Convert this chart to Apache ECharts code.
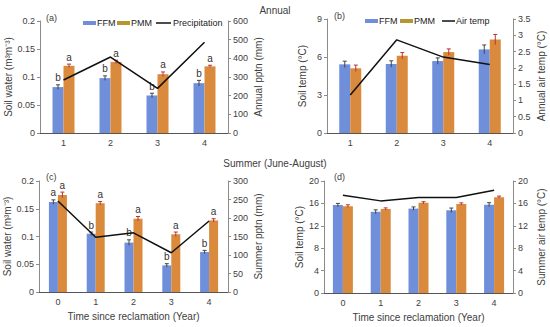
<!DOCTYPE html>
<html>
<head>
<meta charset="utf-8">
<script src="https://cdn.jsdelivr.net/npm/echarts@6/dist/echarts.min.js"></script>
<style>html,body{margin:0;padding:0;background:#fff}#c{width:550px;height:327px}</style>
</head>
<body>
<div id="c"></div>
<script>
// ---- Data ----
const catsAnnual = ['1', '2', '3', '4'];
const catsSummer = ['0', '1', '2', '3', '4'];

// (a) Annual soil water
const aFFM = [0.082, 0.098, 0.067, 0.089];
const aPMM = [0.120, 0.127, 0.105, 0.119];
const aFFMerr = [0.004, 0.004, 0.004, 0.005];
const aPMMerr = [0.003, 0.003, 0.004, 0.002];
const aFFMlet = ['b', 'b', 'b', 'b'];
const aPMMlet = ['a', 'a', 'a', 'a'];
const aPptn = [284, 407, 239, 486];

// (b) Annual soil temp
const bFFM = [5.42, 5.45, 5.68, 6.6];
const bPMM = [5.11, 6.1, 6.39, 7.38];
const bFFMerr = [0.25, 0.25, 0.25, 0.35];
const bPMMerr = [0.25, 0.25, 0.25, 0.4];
const bAir = [1.17, 2.86, 2.33, 2.10];

// (c) Summer soil water
const cFFM = [0.162, 0.105, 0.089, 0.048, 0.072];
const cPMM = [0.175, 0.160, 0.132, 0.104, 0.129];
const cFFMerr = [0.004, 0.003, 0.005, 0.003, 0.003];
const cPMMerr = [0.005, 0.003, 0.004, 0.004, 0.003];
const cFFMlet = ['a', 'b', 'b', 'b', 'b'];
const cPMMlet = ['a', 'a', 'a', 'a', 'a'];
const cPptn = [246, 148, 160, 106, 192];

// (d) Summer soil temp
const dFFM = [15.7, 14.5, 15.07, 14.77, 15.78];
const dPMM = [15.5, 15.0, 16.1, 15.9, 17.1];
const dFFMerr = [0.3, 0.35, 0.3, 0.4, 0.35];
const dPMMerr = [0.25, 0.2, 0.2, 0.2, 0.2];
const dAir = [17.46, 16.45, 17.04, 17.04, 18.35];

// ---- Styling ----
const FONT = 'Liberation Sans, Arial, sans-serif';
const C_FFM = '#6f8fdb';
const C_PMM = '#d98a3c';
const C_LEG_PMM = '#b8962f';
const TXT = '#404040';
const AXC = '#8c8c8c';

const grids = [
  {left: 40, top: 21, width: 188, height: 112},
  {left: 327, top: 19, width: 186, height: 114},
  {left: 39, top: 181, width: 189, height: 111},
  {left: 324, top: 181, width: 189, height: 112}
];

function xAx(i, cats, withName) {
  return {
    type: 'category', gridIndex: i, data: cats,
    axisLine: {lineStyle: {color: '#555', width: 1}},
    axisTick: {show: false},
    axisLabel: {color: TXT, fontSize: 9, fontFamily: FONT, margin: 5},
    name: withName ? 'Time since reclamation (Year)' : '',
    nameLocation: 'middle', nameGap: 19,
    nameTextStyle: {color: TXT, fontSize: 10, fontFamily: FONT}
  };
}
function yAx(i, pos, min, max, interval, name, gap) {
  return {
    type: 'value', gridIndex: i, position: pos, min: min, max: max, interval: interval,
    splitLine: {show: false},
    axisLine: {show: true, lineStyle: {color: AXC, width: 1}},
    axisTick: {show: true, length: 3, lineStyle: {color: AXC}},
    axisLabel: {color: TXT, fontSize: 9, fontFamily: FONT, margin: 5},
    name: name, nameLocation: 'middle', nameGap: gap,
    nameTextStyle: {color: TXT, fontSize: 10, fontFamily: FONT}
  };
}

function bars(xi, yi, data, color, width) {
  return {
    type: 'bar', xAxisIndex: xi, yAxisIndex: yi, data: data,
    barWidth: width, barGap: '0%',
    itemStyle: {color: color}
  };
}
function errs(xi, yi, vals, errsArr, letters, side, width, errColor) {
  const data = vals.map((v, k) => [k, v, errsArr[k]]);
  return {
    type: 'custom', xAxisIndex: xi, yAxisIndex: yi, data: data, z: 5,
    renderItem: function (params, api) {
      const k = api.value(0), v = api.value(1), e = api.value(2);
      const c = api.coord([k, v]);
      const x = c[0] + side * width / 2;
      const top = api.coord([k, v + e])[1];
      const bot = api.coord([k, v - e])[1];
      const children = [
        {type: 'line', shape: {x1: x, y1: top, x2: x, y2: bot}, style: {stroke: errColor, lineWidth: 1}},
        {type: 'line', shape: {x1: x - 2, y1: top, x2: x + 2, y2: top}, style: {stroke: errColor, lineWidth: 1}}
      ];
      if (letters) {
        children.push({
          type: 'text',
          style: {text: letters[params.dataIndex], x: x, y: top - 2, align: 'center', verticalAlign: 'bottom',
            fill: '#333', font: '10px ' + FONT}
        });
      }
      return {type: 'group', children: children};
    }
  };
}
function line(xi, yi, data, name) {
  return {
    type: 'line', name: name, xAxisIndex: xi, yAxisIndex: yi, data: data,
    symbol: 'none', z: 6,
    lineStyle: {color: '#111', width: 1.5}, itemStyle: {color: '#111'}
  };
}

const option = {
  animation: false,
  textStyle: {fontFamily: FONT},
  grid: grids,
  xAxis: [xAx(0, catsAnnual, false), xAx(1, catsAnnual, false), xAx(2, catsSummer, true), xAx(3, catsSummer, true)],
  yAxis: [
    yAx(0, 'left', 0, 0.2, 0.05, 'Soil water (m\u00b3m\u207b\u00b3)', 26),
    yAx(0, 'right', 0, 600, 100, 'Annual pptn (mm)', 25),
    yAx(1, 'left', 0, 9, 3, 'Soil temp (\u00b0C)', 20),
    yAx(1, 'right', 0, 3.5, 0.5, 'Annual air temp (\u00b0C)', 23),
    yAx(2, 'left', 0, 0.2, 0.05, 'Soil water (m\u00b3m\u207b\u00b3)', 26),
    yAx(2, 'right', 0, 300, 50, 'Summer pptn (mm)', 25),
    yAx(3, 'left', 0, 20, 4, 'Soil temp (\u00b0C)', 20),
    yAx(3, 'right', 0, 20, 4, 'Summer air temp (\u00b0C)', 23)
  ],
  series: [
    bars(0, 0, aFFM, C_FFM, 11), bars(0, 0, aPMM, C_PMM, 11),
    errs(0, 0, aFFM, aFFMerr, aFFMlet, -1, 11, '#444'), errs(0, 0, aPMM, aPMMerr, aPMMlet, 1, 11, '#b33'),
    line(0, 1, aPptn, 'Precipitation'),

    bars(1, 2, bFFM, C_FFM, 11), bars(1, 2, bPMM, C_PMM, 11),
    errs(1, 2, bFFM, bFFMerr, null, -1, 11, '#444'), errs(1, 2, bPMM, bPMMerr, null, 1, 11, '#b33'),
    line(1, 3, bAir, 'Air temp'),

    bars(2, 4, cFFM, C_FFM, 9), bars(2, 4, cPMM, C_PMM, 9),
    errs(2, 4, cFFM, cFFMerr, cFFMlet, -1, 9, '#444'), errs(2, 4, cPMM, cPMMerr, cPMMlet, 1, 9, '#b33'),
    line(2, 5, cPptn, 'Summer pptn'),

    bars(3, 6, dFFM, C_FFM, 10), bars(3, 6, dPMM, C_PMM, 10),
    errs(3, 6, dFFM, dFFMerr, null, -1, 10, '#444'), errs(3, 6, dPMM, dPMMerr, null, 1, 10, '#b33'),
    line(3, 7, dAir, 'Summer air temp')
  ],
  graphic: [
    {type: 'text', left: 'center', top: 5, style: {text: 'Annual', fill: TXT, font: '10px ' + FONT}},
    {type: 'text', left: 'center', top: 158, style: {text: 'Summer (June-August)', fill: TXT, font: '10px ' + FONT}},
    {type: 'text', x: 46, y: 13, style: {text: '(a)', fill: TXT, font: '9px ' + FONT}},
    {type: 'text', x: 334, y: 11, style: {text: '(b)', fill: TXT, font: '9px ' + FONT}},
    {type: 'text', x: 46, y: 172, style: {text: '(c)', fill: TXT, font: '9px ' + FONT}},
    {type: 'text', x: 334, y: 172, style: {text: '(d)', fill: TXT, font: '9px ' + FONT}},
    // legend (a)
    {type: 'rect', shape: {x: 83, y: 21, width: 13, height: 4}, style: {fill: C_FFM}},
    {type: 'text', x: 97, y: 18, style: {text: 'FFM', fill: '#222', font: '9px ' + FONT}},
    {type: 'rect', shape: {x: 117, y: 21, width: 13, height: 4}, style: {fill: C_LEG_PMM}},
    {type: 'text', x: 131, y: 18, style: {text: 'PMM', fill: '#222', font: '9px ' + FONT}},
    {type: 'line', shape: {x1: 156, y1: 23, x2: 171, y2: 23}, style: {stroke: '#111', lineWidth: 1.5}},
    {type: 'text', x: 173, y: 18, style: {text: 'Precipitation', fill: '#222', font: '9px ' + FONT}},
    // legend (b)
    {type: 'rect', shape: {x: 365, y: 19, width: 13, height: 4}, style: {fill: C_FFM}},
    {type: 'text', x: 379, y: 16, style: {text: 'FFM', fill: '#222', font: '9px ' + FONT}},
    {type: 'rect', shape: {x: 400, y: 19, width: 13, height: 4}, style: {fill: C_LEG_PMM}},
    {type: 'text', x: 414, y: 16, style: {text: 'PMM', fill: '#222', font: '9px ' + FONT}},
    {type: 'line', shape: {x1: 442, y1: 21, x2: 455, y2: 21}, style: {stroke: '#111', lineWidth: 1.5}},
    {type: 'text', x: 456, y: 16, style: {text: 'Air temp', fill: '#222', font: '9px ' + FONT}}
  ]
};

const chart = echarts.init(document.getElementById('c'), null, {renderer: 'svg', width: 550, height: 327});
chart.setOption(option);
</script>
</body>
</html>
